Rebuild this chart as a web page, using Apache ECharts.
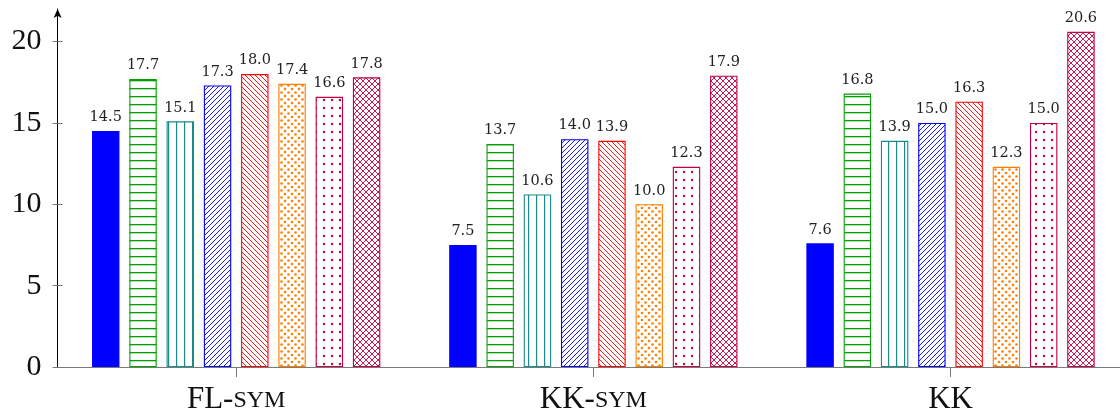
<!DOCTYPE html>
<html>
<head>
<meta charset="utf-8">
<script src="https://cdn.jsdelivr.net/npm/echarts@6/dist/echarts.min.js"></script>
<style>
  html, body { margin: 0; padding: 0; background: #fff; overflow: hidden; }
  #chart { width: 1140px; height: 416px; }
</style>
</head>
<body>
<div id="chart"></div>
<script>
// ---- data ----
const categories = ['FL-SYM', 'KK-SYM', 'KK'];
const yTicks = [0, 5, 10, 15, 20];
const yMax = 22;
const solidBlue   = [14.5, 7.5, 7.6];
const hLines      = [17.7, 13.7, 16.8];
const vLines      = [15.1, 10.6, 13.9];
const neLines     = [17.3, 14.0, 15.0];
const nwLines     = [18.0, 13.9, 16.3];
const denseDots   = [17.4, 10.0, 12.3];
const sparseDots  = [16.6, 12.3, 15.0];
const crosshatch  = [17.8, 17.9, 20.6];

// ---- pattern tiles ----
function tile(w, h, draw) {
  const c = document.createElement('canvas');
  c.width = w; c.height = h;
  const g = c.getContext('2d');
  draw(g, w, h);
  return c;
}
function pat(canvas) { return { image: canvas, repeat: 'repeat' }; }

const SERIF = '"Liberation Serif", "DejaVu Serif", serif';
const SMALLSERIF = '"DejaVu Serif", "Liberation Serif", serif';

const GREEN = '#00a000', TEAL = '#1a8a8a', BLUE = '#0000ff', RED = '#ff0000',
      ORANGE = '#ff8000', PURPLE = '#c00040';

const pHLines = tile(8, 8, (g) => { g.fillStyle = GREEN; g.fillRect(0, 0, 8, 1.3); });
const pVLines = tile(8, 8, (g) => { g.fillStyle = TEAL; g.fillRect(0, 0, 1.2, 8); });
const pNE = tile(5, 5, (g, w, h) => {
  g.strokeStyle = BLUE; g.lineWidth = 0.9;
  g.beginPath();
  g.moveTo(-1, h + 1); g.lineTo(w + 1, -1);
  g.moveTo(-1, 1); g.lineTo(1, -1);
  g.moveTo(w - 1, h + 1); g.lineTo(w + 1, h - 1);
  g.stroke();
});
const pNW = tile(5, 5, (g, w, h) => {
  g.strokeStyle = RED; g.lineWidth = 0.9;
  g.beginPath();
  g.moveTo(-1, -1); g.lineTo(w + 1, h + 1);
  g.moveTo(w - 1, -1); g.lineTo(w + 1, 1);
  g.moveTo(-1, h - 1); g.lineTo(1, h + 1);
  g.stroke();
});
const pDense = tile(7, 7, (g) => {
  g.fillStyle = ORANGE;
  g.beginPath(); g.arc(1.5, 1.5, 1.3, 0, Math.PI * 2); g.fill();
  g.beginPath(); g.arc(5, 5, 1.3, 0, Math.PI * 2); g.fill();
});
const pSparse = tile(8, 8, (g) => {
  g.fillStyle = PURPLE;
  g.beginPath(); g.arc(4, 4, 1.2, 0, Math.PI * 2); g.fill();
});
const pCross = tile(6, 6, (g, w, h) => {
  g.strokeStyle = PURPLE; g.lineWidth = 0.9;
  g.beginPath();
  g.moveTo(-1, -1); g.lineTo(w + 1, h + 1);
  g.moveTo(-1, h + 1); g.lineTo(w + 1, -1);
  g.stroke();
});

const seriesDefs = [
  { name: 'A', data: solidBlue,  fill: BLUE,         border: BLUE },
  { name: 'B', data: hLines,     fill: pat(pHLines), border: GREEN },
  { name: 'C', data: vLines,     fill: pat(pVLines), border: TEAL },
  { name: 'D', data: neLines,    fill: pat(pNE),     border: BLUE },
  { name: 'E', data: nwLines,    fill: pat(pNW),     border: RED },
  { name: 'F', data: denseDots,  fill: pat(pDense),  border: ORANGE },
  { name: 'G', data: sparseDots, fill: pat(pSparse), border: PURPLE },
  { name: 'H', data: crosshatch, fill: pat(pCross),  border: PURPLE }
];

const chart = echarts.init(document.getElementById('chart'), null, { renderer: 'canvas' });

const option = {
  animation: false,
  backgroundColor: '#ffffff',
  grid: { left: 57.6, top: 9, width: 1071.5, bottom: 49, containLabel: false },
  xAxis: {
    type: 'category',
    data: categories,
    boundaryGap: true,
    axisLine: { show: true, lineStyle: { color: '#7a7a7a', width: 1.2 } },
    axisTick: { show: true, alignWithLabel: true, length: 10, lineStyle: { color: '#7a7a7a', width: 1 } },
    axisLabel: {
      interval: 0,
      margin: 17,
      color: '#111',
      fontFamily: SERIF,
      fontSize: 31,
      formatter: function (v) {
        const i = v.indexOf('-');
        if (i < 0) return v;
        return v.slice(0, i + 1) + '{sc|' + v.slice(i + 1) + '}';
      },
      rich: { sc: { fontFamily: SERIF, fontSize: 24, color: '#111', verticalAlign: 'bottom', padding: [0, 0, 2, 0] } }
    },
    splitLine: { show: false }
  },
  yAxis: [
    {
      type: 'value',
      min: 0,
      max: yMax,
      interval: 5,
      axisLine: { show: true, lineStyle: { color: '#000', width: 1 }, symbol: ['none', 'arrow'], symbolSize: [6, 9] },
      axisTick: { show: true, length: 5, customValues: yTicks, lineStyle: { color: '#7a7a7a', width: 1 } },
      axisLabel: {
        margin: 16, color: '#111', fontFamily: SERIF, fontSize: 30,
        customValues: yTicks
      },
      splitLine: { show: false }
    },
    {
      type: 'value',
      min: 0,
      max: yMax,
      interval: 5,
      position: 'left',
      axisLine: { show: false },
      axisTick: { show: true, inside: true, length: 5, customValues: yTicks, lineStyle: { color: '#7a7a7a', width: 1 } },
      axisLabel: { show: false },
      splitLine: { show: false }
    }
  ],
  series: seriesDefs.map((s) => ({
    type: 'bar',
    name: s.name,
    data: s.data,
    barWidth: 27.4,
    barGap: '36%',
    itemStyle: { color: s.fill, borderColor: s.border, borderWidth: 1.1 },
    label: {
      show: true,
      position: 'top',
      distance: 6,
      color: '#222',
      fontFamily: SMALLSERIF,
      fontSize: 14.5,
      formatter: (p) => p.value.toFixed(1)
    }
  }))
};

chart.setOption(option);
</script>
</body>
</html>
